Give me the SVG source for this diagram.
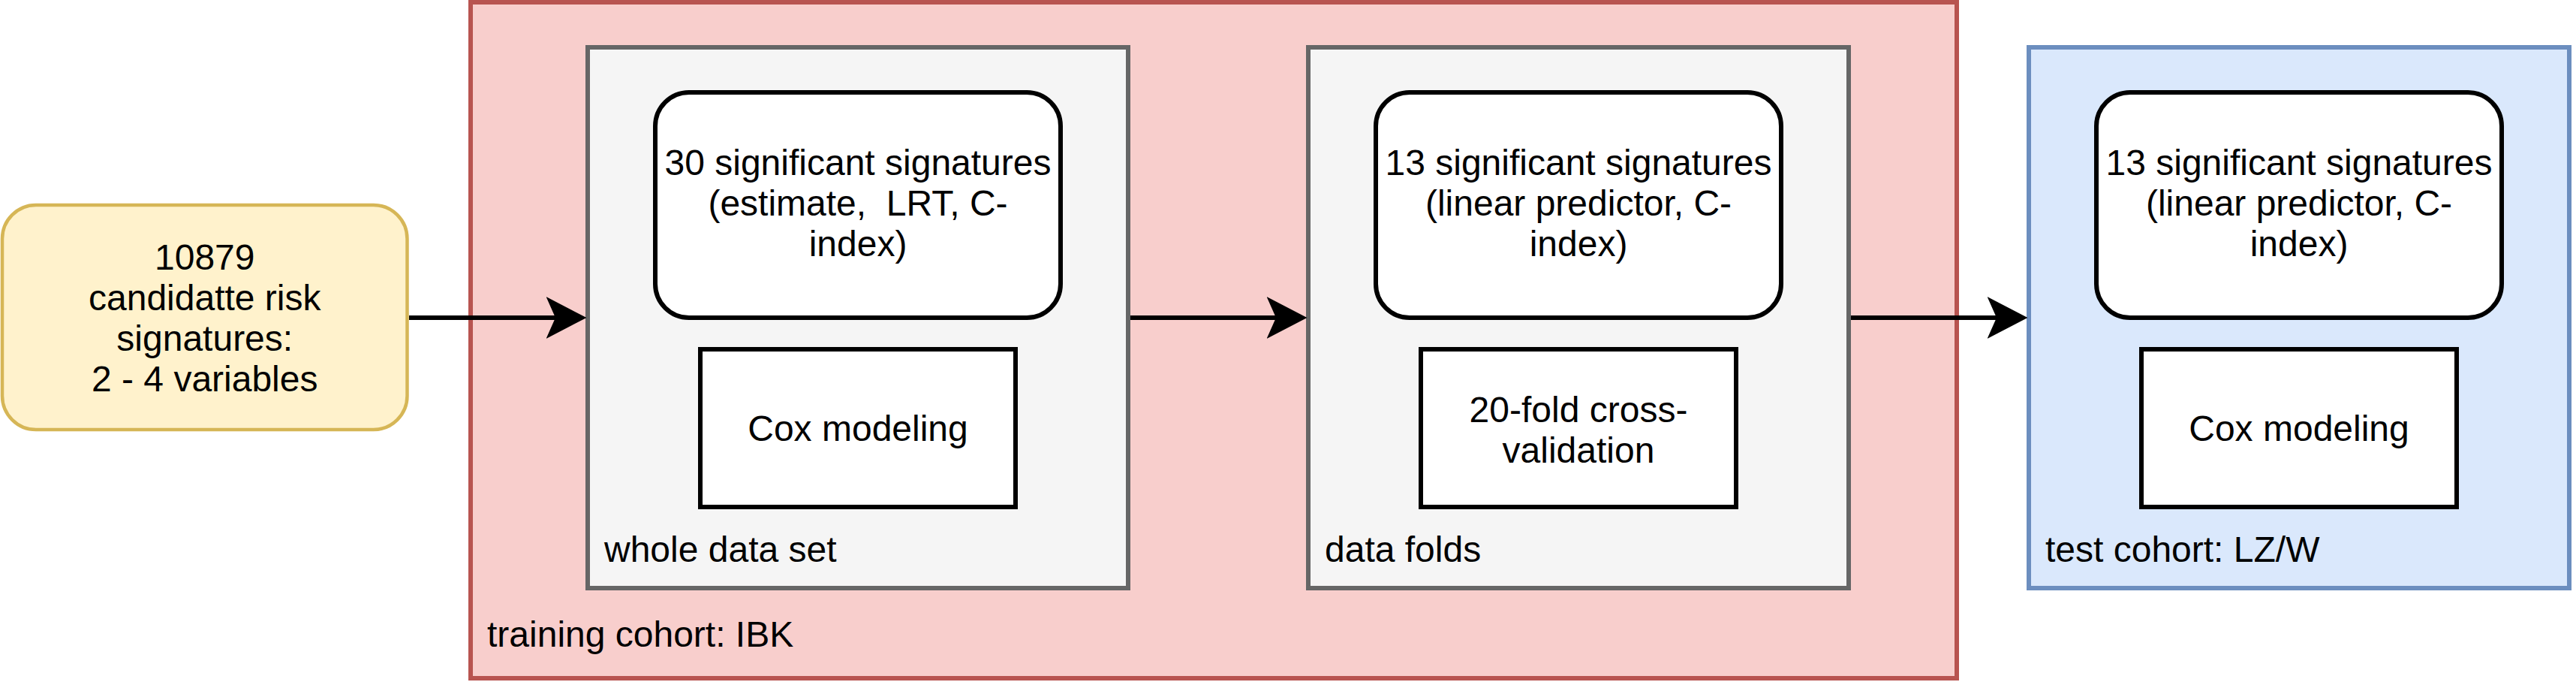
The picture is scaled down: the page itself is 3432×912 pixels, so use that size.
<svg xmlns="http://www.w3.org/2000/svg" width="3432" height="912" viewBox="0 0 3432 912">
<style>
text{font-family:"Liberation Sans",Arial,Helvetica,sans-serif;font-size:48px;fill:#000;white-space:pre}
.c{text-anchor:middle}
.red{fill:#f8cecc;stroke:#b85450;stroke-width:6}
.gray{fill:#f5f5f5;stroke:#666666;stroke-width:6}
.blue{fill:#dae8fc;stroke:#6c8ebf;stroke-width:6}
.yel{fill:#fff2cc;stroke:#d6b656;stroke-width:4.5}
.rnd{fill:#ffffff;stroke:#000;stroke-width:6}
.box{fill:#ffffff;stroke:#000;stroke-width:6}
.edge{fill:none;stroke:#000;stroke-width:6}
</style>
<defs>
<marker id="arr" markerUnits="userSpaceOnUse" markerWidth="54" markerHeight="56" viewBox="0 0 52 54" refX="12" refY="27" orient="auto">
<path d="M0,0 L52,27 L0,54 L12,27 Z" fill="#000"/>
</marker>
</defs>
<g id="training">
<rect class="red" x="627" y="3" width="1980" height="900"/>
<text x="649" y="861">training cohort: IBK</text>
</g>
<g id="test">
<rect class="blue" x="2703" y="63" width="720" height="720"/>
<text x="2725" y="748">test cohort: LZ/W</text>
</g>
<g id="whole">
<rect class="gray" x="783" y="63" width="720" height="720"/>
<text x="805" y="748">whole data set</text>
</g>
<g id="folds">
<rect class="gray" x="1743" y="63" width="720" height="720"/>
<text x="1765" y="748">data folds</text>
</g>
<g id="candidates">
<rect class="yel" x="3" y="273" width="539.5" height="299" rx="45" ry="45"/>
<text class="c" x="272.75" y="359">10879</text>
<text class="c" x="272.75" y="413">candidatte risk</text>
<text class="c" x="272.75" y="467">signatures:</text>
<text class="c" x="272.75" y="521">2 - 4 variables</text>
</g>
<g id="sig30">
<rect class="rnd" x="873" y="123" width="540" height="300" rx="45" ry="45"/>
<text class="c" x="1143" y="232.5">30 significant signatures</text>
<text class="c" x="1143" y="286.5">(estimate,  LRT, C-</text>
<text class="c" x="1143" y="340.5">index)</text>
</g>
<g id="cox1">
<rect class="box" x="933" y="465" width="420" height="210"/>
<text class="c" x="1143" y="587">Cox modeling</text>
</g>
<g id="sig13a">
<rect class="rnd" x="1833" y="123" width="540" height="300" rx="45" ry="45"/>
<text class="c" x="2103" y="232.5">13 significant signatures</text>
<text class="c" x="2103" y="286.5">(linear predictor, C-</text>
<text class="c" x="2103" y="340.5">index)</text>
</g>
<g id="cv">
<rect class="box" x="1893" y="465" width="420" height="210"/>
<text class="c" x="2103" y="562">20-fold cross-</text>
<text class="c" x="2103" y="616">validation</text>
</g>
<g id="sig13b">
<rect class="rnd" x="2793" y="123" width="540" height="300" rx="45" ry="45"/>
<text class="c" x="3063" y="232.5">13 significant signatures</text>
<text class="c" x="3063" y="286.5">(linear predictor, C-</text>
<text class="c" x="3063" y="340.5">index)</text>
</g>
<g id="cox2">
<rect class="box" x="2853" y="465" width="420" height="210"/>
<text class="c" x="3063" y="587">Cox modeling</text>
</g>
<g id="connectors">
<path class="edge" d="M545,423 L740,423" marker-end="url(#arr)"/>
<path class="edge" d="M1506,423 L1700,423" marker-end="url(#arr)"/>
<path class="edge" d="M2466,423 L2660,423" marker-end="url(#arr)"/>
</g>
</svg>
